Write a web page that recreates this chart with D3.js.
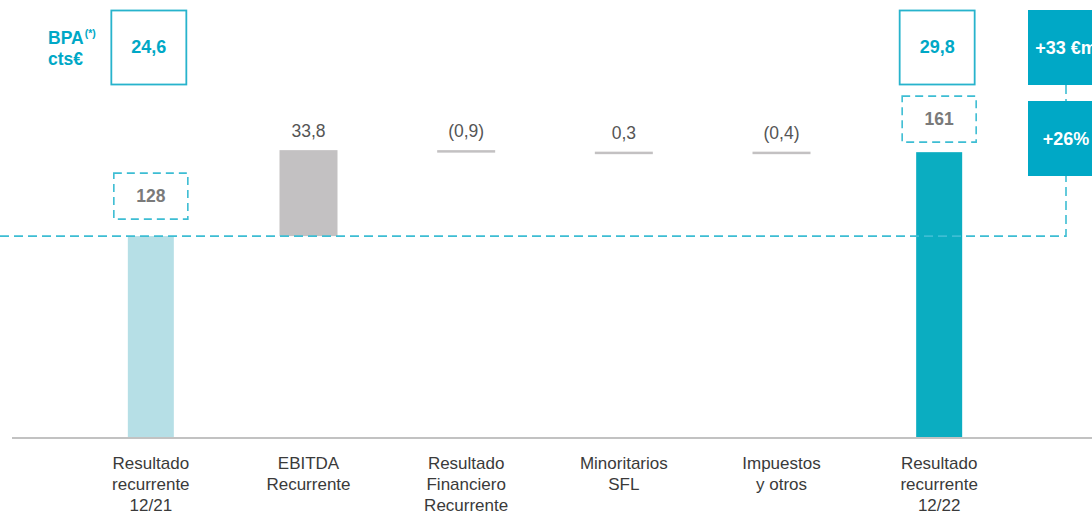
<!DOCTYPE html>
<html>
<head>
<meta charset="utf-8">
<script src="https://cdn.jsdelivr.net/npm/d3@7"></script>
<style>
  html, body { margin: 0; padding: 0; background: #ffffff; }
  svg { display: block; font-family: "Liberation Sans", Arial, sans-serif; }
</style>
</head>
<body>
<svg id="chart" width="1092" height="514"></svg>
<script>
// Waterfall: recurring net result bridge 12/21 -> 12/22 (€m)
const categories = [
  ["Resultado", "recurrente", "12/21"],
  ["EBITDA", "Recurrente"],
  ["Resultado", "Financiero", "Recurrente"],
  ["Minoritarios", "SFL"],
  ["Impuestos", "y otros"],
  ["Resultado", "recurrente", "12/22"]
];
const barKinds = ["total", "delta", "delta", "delta", "delta", "total"];
const values = [128, 33.8, -0.9, 0.3, -0.4, 161];
const valueLabels = ["128", "33,8", "(0,9)", "0,3", "(0,4)", "161"];
const epsValues = [24.6, 29.8];
const epsLabels = ["24,6", "29,8"];
const growthLabels = ["+33 €m", "+26%"];

const W = 1092, H = 514;
const svg = d3.select("#chart");

const teal = "#00a8c6";
const dashTeal = "#3dbdd3";
const colors = { start: "#b6dfe6", delta: "#c3c1c2", end: "#0badc1" };

const x = d3.scalePoint()
  .domain(d3.range(categories.length))
  .range([72, 1018])
  .padding(0.5);

const y = d3.scaleLinear().domain([49, 165]).range([437, 142]);

// running totals for the bridge
let running = 0;
const bars = values.map((v, i) => {
  let start, end;
  if (barKinds[i] === "total") { start = y.domain()[0]; end = v; running = v; }
  else { start = running; end = running + v; running = end; }
  return { i, v, start, end, kind: barKinds[i] };
});

const cx = i => x(i);
const barWidth = d => d.kind === "total" ? 46 : 58;

// bars
svg.append("g").selectAll("rect")
  .data(bars)
  .join("rect")
  .attr("x", d => cx(d.i) - barWidth(d) / 2)
  .attr("width", d => barWidth(d))
  .attr("y", d => Math.min(y(d.start), y(d.end)))
  .attr("height", d => Math.max(2.5, Math.abs(y(d.start) - y(d.end))))
  .attr("fill", d => d.kind === "delta" ? colors.delta : (d.i === 0 ? colors.start : colors.end));

// baseline
svg.append("line")
  .attr("x1", 12).attr("x2", W)
  .attr("y1", y.range()[0] + 1).attr("y2", y.range()[0] + 1)
  .attr("stroke", "#c2c2c2").attr("stroke-width", 2);

// value labels over delta bars
svg.append("g").selectAll("text")
  .data(bars.filter(d => d.kind === "delta"))
  .join("text")
  .attr("x", d => cx(d.i))
  .attr("y", d => Math.min(y(d.start), y(d.end)) - 13)
  .attr("text-anchor", "middle")
  .attr("font-size", 17.5)
  .attr("fill", "#555")
  .text(d => valueLabels[d.i]);

// dashed value boxes over total bars
const totals = bars.filter(d => d.kind === "total");
const boxGap = [17, 10];
totals.forEach((d, k) => {
  const top = y(d.end);
  const g = svg.append("g");
  g.append("rect")
    .attr("x", cx(d.i) - 37).attr("y", top - boxGap[k] - 46)
    .attr("width", 74).attr("height", 46)
    .attr("fill", "none").attr("stroke", dashTeal)
    .attr("stroke-width", 1.6).attr("stroke-dasharray", "8,5");
  g.append("text")
    .attr("x", cx(d.i)).attr("y", top - boxGap[k] - 23 + 6)
    .attr("text-anchor", "middle")
    .attr("font-size", 17.5).attr("font-weight", "bold")
    .attr("fill", "#7a7a7a")
    .text(valueLabels[d.i]);
});

// EPS boxes
totals.forEach((d, k) => {
  svg.append("rect")
    .attr("x", cx(d.i) - 39.5).attr("y", 10.5)
    .attr("width", 75).attr("height", 74)
    .attr("fill", "none").attr("stroke", "#27b3cc").attr("stroke-width", 1.8);
  svg.append("text")
    .attr("x", cx(d.i) - 2).attr("y", 53)
    .attr("text-anchor", "middle")
    .attr("font-size", 18).attr("font-weight", "bold")
    .attr("fill", teal)
    .text(epsLabels[k]);
});

// EPS caption
const cap = svg.append("text")
  .attr("x", 48).attr("y", 44)
  .attr("font-size", 17.5).attr("font-weight", "bold").attr("fill", teal);
cap.append("tspan").text("BPA");
cap.append("tspan").attr("font-size", 10.5).attr("dy", -7).attr("dx", 1).text("(*)");
svg.append("text")
  .attr("x", 48).attr("y", 65)
  .attr("font-size", 17.5).attr("font-weight", "bold").attr("fill", teal)
  .text("cts€");

// growth badges with dashed connector back to the 12/21 level
const badgeX = 1028, badgeW = 76, badgeCx = badgeX + badgeW / 2;
const badgeY = [10, 101], badgeH = 75;
svg.append("path")
  .attr("d", `M0,${y(values[0])}H${badgeCx}V${badgeY[1] + badgeH}M${badgeCx},${badgeY[0] + badgeH}V${badgeY[1]}`)
  .attr("fill", "none").attr("stroke", dashTeal)
  .attr("stroke-width", 1.6).attr("stroke-dasharray", "9,5");
growthLabels.forEach((t, k) => {
  svg.append("rect")
    .attr("x", badgeX).attr("y", badgeY[k])
    .attr("width", badgeW).attr("height", badgeH)
    .attr("fill", teal);
  svg.append("text")
    .attr("x", badgeCx).attr("y", badgeY[k] + badgeH / 2 + 6)
    .attr("text-anchor", "middle")
    .attr("font-size", 18).attr("font-weight", "bold")
    .attr("fill", "#fff")
    .text(t);
});

// category labels
const catG = svg.append("g");
categories.forEach((lines, i) => {
  const t = catG.append("text")
    .attr("x", cx(i)).attr("y", 469)
    .attr("text-anchor", "middle")
    .attr("font-size", 17).attr("fill", "#3a3a3a");
  lines.forEach((ln, j) => {
    t.append("tspan").attr("x", cx(i)).attr("dy", j === 0 ? 0 : 21).text(ln);
  });
});
</script>
</body>
</html>
